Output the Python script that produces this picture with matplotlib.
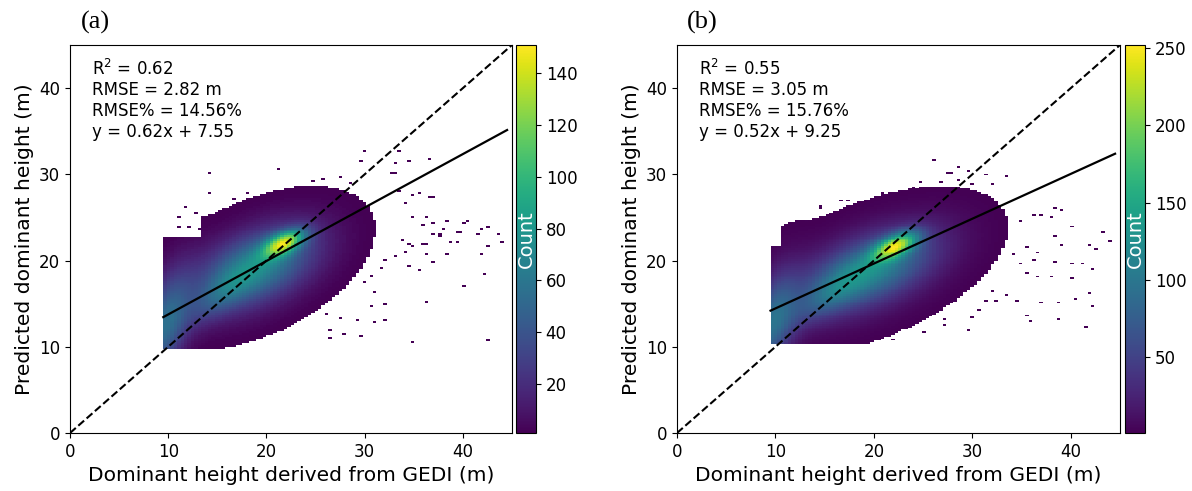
import numpy as np
import matplotlib
matplotlib.use("Agg")
from matplotlib import pyplot as plt

# fitted statistics printed on each panel
r2 = [0.62, 0.55]
rmse = [2.82, 3.05]
rmse_pct = [14.56, 15.76]
slope = [0.62, 0.52]
intercept = [7.55, 9.25]
panel_tags = ['(a)', '(b)']

# histogram grid (GEDI height on x, predicted height on y)
x_range = [(9.5, 44.5), (9.5, 44.5)]
y_range = [(9.8, 32.8), (10.3, 31.8)]
n_bins = 100
peak_count = [151, 252]

# density shape: (centre x, centre y, weight, sd along axis, sd across axis, axis angle)
core_a = (21.8, 22.0, 1.5, 1.6, 0.8, 32)
body_a = (19.0, 19.2, 1.0, 4.6, 2.6, 31)
ridge_a = (15.5, 16.2, 0.35, 3.5, 1.3, 45)
edge_a = (9.6, 12.4, 0.75, 4.3, 1.5, 76)
core_b = (22.2, 21.7, 1.5, 1.7, 0.8, 30)
body_b = (19.5, 18.8, 1.0, 5.0, 2.5, 27)
ridge_b = (15.5, 16.0, 0.35, 3.5, 1.3, 40)
edge_b = (9.6, 12.6, 0.75, 4.0, 1.5, 76)
blobs = [[core_a, body_a, ridge_a, edge_a], [core_b, body_b, ridge_b, edge_b]]

# flat upper edge of the cloud at the low-height end
cap_y = [22.6, 21.8]
cap_x = [13.5, 10.5]

# isolated low-count cells around the main cloud
lone_xa = [14.1, 14.1, 11.8, 16.6, 17.9, 21.3, 30.1, 33.6, 36.7, 34.5, 33.2, 29.5,
           33.2, 35.4, 37.1, 36.3, 38.5, 40.6, 39.7, 37.5, 41.4, 42.4, 43.6, 44.0,
           39.3, 38.3, 42.6, 41.8, 36.1, 36.1, 34.1, 35.0, 37.1, 35.4, 34.5, 42.3,
           40.1, 36.1, 34.9, 42.7, 32.2, 30.6, 31.1, 31.9, 29.3, 29.7, 28.0, 26.6,
           26.6, 27.4, 26.2, 29.9, 31.1, 32.0, 33.2, 31.8, 30.5, 11.2, 11.0, 12.8,
           14.8, 17.2, 24.6, 25.8, 27.5, 28.5, 12.0, 13.0, 32.7, 33.6, 34.9, 36.6,
           34.1, 34.8, 35.8, 37.1, 38.0, 36.8, 37.5, 39.3, 40.2, 41.9, 38.8, 35.8,
           34.6, 33.8]
lone_ya = [30.2, 27.8, 26.3, 27.1, 27.8, 30.6, 32.7, 32.7, 31.8, 31.5, 31.2, 31.5,
           30.2, 27.8, 27.5, 25.1, 24.6, 24.6, 23.3, 23.0, 23.0, 23.9, 23.0, 22.2,
           22.2, 20.7, 21.7, 20.7, 21.9, 20.7, 21.0, 21.7, 19.8, 18.8, 19.4, 18.5,
           17.0, 15.1, 10.5, 10.8, 14.9, 14.8, 12.9, 13.1, 13.2, 11.3, 11.6, 11.1,
           11.9, 13.4, 13.8, 17.4, 16.3, 20.1, 20.6, 19.1, 18.3, 25.1, 23.9, 25.5,
           25.6, 26.6, 29.2, 29.5, 29.7, 29.0, 24.0, 23.6, 30.1, 28.1, 27.7, 27.3,
           26.8, 25.2, 24.1, 24.5, 23.8, 23.1, 22.7, 23.3, 24.5, 23.8, 22.1, 21.8,
           21.8, 22.3]
lone_xb = [26.2, 28.4, 27.8, 29.7, 31.5, 33.6, 31.9, 21.0, 16.5, 17.5, 14.4, 38.3,
           39.2, 37.1, 36.1, 35.0, 37.9, 40.2, 43.1, 44.1, 41.9, 39.2, 38.4, 42.5,
           35.7, 36.5, 34.0, 34.8, 36.3, 38.3, 40.0, 41.0, 42.3, 35.7, 36.6, 37.9,
           40.2, 33.6, 34.4, 37.1, 38.8, 40.6, 41.9, 42.3, 35.4, 35.8, 38.8, 41.4,
           29.6, 30.5, 30.1, 31.5, 32.4, 27.0, 27.0, 24.9, 21.8, 32.2, 14.5, 18.4,
           19.4, 22.6, 24.0, 24.8, 26.7, 27.5, 28.7, 30.1, 10.8, 12.2, 13.2]
lone_yb = [31.6, 30.8, 30.2, 30.5, 30.0, 29.8, 28.9, 27.9, 26.9, 26.9, 26.2, 26.2,
           25.8, 25.3, 25.3, 24.6, 25.0, 23.9, 23.3, 22.3, 21.9, 21.9, 22.8, 21.3,
           21.5, 20.9, 20.7, 19.7, 20.0, 19.9, 19.6, 19.6, 19.1, 18.5, 18.2, 18.2,
           18.0, 16.1, 15.3, 15.2, 15.2, 15.6, 16.3, 14.7, 13.7, 12.9, 13.1, 12.3,
           12.0, 14.2, 13.4, 15.3, 15.3, 13.1, 12.6, 11.6, 10.9, 16.5, 26.4, 26.0,
           26.8, 28.1, 28.5, 29.1, 29.1, 30.2, 29.3, 28.9, 23.7, 24.1, 24.5]
lone_x = [lone_xa, lone_xb]
lone_y = [lone_ya, lone_yb]


def blob(xc, yc, cx, cy, w, s_along, s_across, angle):
    t = np.deg2rad(angle)
    dx, dy = xc - cx, yc - cy
    u = dx * np.cos(t) + dy * np.sin(t)
    v = -dx * np.sin(t) + dy * np.cos(t)
    return w * np.exp(-0.5 * ((u / s_along) ** 2 + (v / s_across) ** 2))


def cell_counts(i):
    xe = np.linspace(*x_range[i], n_bins + 1)
    ye = np.linspace(*y_range[i], n_bins + 1)
    xc, yc = np.meshgrid(0.5 * (xe[1:] + xe[:-1]), 0.5 * (ye[1:] + ye[:-1]), indexing='ij')
    dens = sum(blob(xc, yc, *b) for b in blobs[i])
    dens[(xc < cap_x[i]) & (yc > cap_y[i])] = 0
    counts = np.floor(dens / dens.max() * peak_count[i])
    extra, _, _ = np.histogram2d(lone_x[i], lone_y[i], bins=[xe, ye])
    return xe, ye, xc, yc, counts + extra


fig = plt.figure(figsize=(11.92, 4.91), dpi=100)
ax_boxes = [[70, 512, 516, 536], [677, 1120, 1125, 1145]]
W, H = 1192.0, 491.0
bottom, top = 433, 45

for i in range(2):
    l, r, cl, cr = ax_boxes[i]
    ax = fig.add_axes([l / W, 1 - bottom / H, (r - l) / W, (bottom - top) / H])
    cax = fig.add_axes([cl / W, 1 - bottom / H, (cr - cl) / W, (bottom - top) / H])

    xe, ye, xc, yc, counts = cell_counts(i)
    h = ax.hist2d(xc.ravel(), yc.ravel(), bins=[xe, ye], weights=counts.ravel(),
                  cmin=1, cmap='viridis')

    ax.plot([0, 45], [0, 45], 'k--', lw=1.5)
    xs = np.array(x_range[i])
    ax.plot(xs, slope[i] * xs + intercept[i], 'k-', lw=1.6)
    ax.set_xlim(0, 45)
    ax.set_ylim(0, 45)
    ax.set_xticks([0, 10, 20, 30, 40])
    ax.set_yticks([0, 10, 20, 30, 40])
    ax.tick_params(labelsize=12)
    ax.set_xlabel('Dominant height derived from GEDI (m)', fontsize=14.6)
    ax.set_ylabel('Predicted dominant height (m)', fontsize=14.6)

    txt = ('R$^2$ = %.2f\nRMSE = %.2f m\nRMSE%% = %.2f%%\ny = %.2fx + %.2f'
           % (r2[i], rmse[i], rmse_pct[i], slope[i], intercept[i]))
    ax.text(0.05, 0.965, txt, transform=ax.transAxes, va='top', ha='left', fontsize=12)

    cb = fig.colorbar(h[3], cax=cax)
    cb.ax.tick_params(labelsize=12)
    cax.text(0.5, 0.5, 'Count', transform=cax.transAxes, rotation=90, color='white',
             ha='center', va='center', fontsize=14)

    fig.text((l + 25) / W, 1 - 22 / H, panel_tags[i], fontsize=19,
             family='Liberation Serif', ha='center', va='center')

fig.savefig('out.png', dpi=100)
